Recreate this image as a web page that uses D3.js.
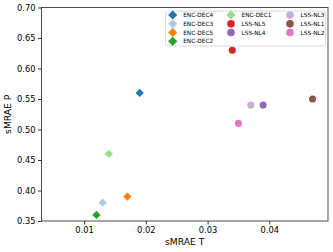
<!DOCTYPE html>
<html>
<head>
<meta charset="utf-8">
<script src="https://cdn.jsdelivr.net/npm/d3@7"></script>
<style>
  body { margin: 0; background: #fff; }
  text { font-family: "DejaVu Sans", sans-serif; }
</style>
</head>
<body>
<div id="chart"></div>
<script>
var models = ["ENC-DEC4", "ENC-DEC3", "ENC-DEC5", "ENC-DEC2", "ENC-DEC1",
              "LSS-NL5", "LSS-NL4", "LSS-NL3", "LSS-NL1", "LSS-NL2"];
var smrae_t = [0.019, 0.013, 0.017, 0.012, 0.014, 0.034, 0.039, 0.037, 0.047, 0.035];
var smrae_p = [0.56, 0.38, 0.39, 0.36, 0.46, 0.63, 0.54, 0.54, 0.55, 0.51];
var colors = ["#1f77b4", "#aec7e8", "#ff7f0e", "#2ca02c", "#98df8a",
              "#d62728", "#9467bd", "#c5b0d5", "#8c564b", "#e377c2"];
var x_ticks = [0.01, 0.02, 0.03, 0.04];
var y_ticks = [0.35, 0.40, 0.45, 0.50, 0.55, 0.60, 0.65, 0.70];

var width = 333, height = 252;
var margin = {left: 41.5, right: 5, top: 7.5, bottom: 31};

var svg = d3.select("#chart").append("svg")
    .attr("width", width)
    .attr("height", height);

var x = d3.scaleLinear().domain([0.0031, 0.0495])
    .range([margin.left, width - margin.right]);
var y = d3.scaleLinear().domain([0.35, 0.70])
    .range([height - margin.bottom, margin.top]);

var is_diamond = function(name) { return name.indexOf("ENC") === 0; };
var diamond = d3.symbol().type(d3.symbolSquare).size(34);
var circle = d3.symbol().type(d3.symbolCircle).size(40);
var leg_diamond = d3.symbol().type(d3.symbolSquare).size(42);
var leg_circle = d3.symbol().type(d3.symbolCircle).size(46);

var points = models.map(function(m, i) {
    return {name: m, t: smrae_t[i], p: smrae_p[i], color: colors[i]};
});

svg.selectAll("path.pt").data(points).enter()
    .append("path")
    .attr("class", "pt")
    .attr("d", function(d) { return is_diamond(d.name) ? diamond() : circle(); })
    .attr("transform", function(d) {
        return "translate(" + x(d.t) + "," + y(d.p) + ")" + (is_diamond(d.name) ? " rotate(45)" : "");
    })
    .attr("fill", function(d) { return d.color; });

// axes
var x_axis = svg.append("g")
    .attr("transform", "translate(0," + (height - margin.bottom) + ")")
    .call(d3.axisBottom(x).tickValues(x_ticks).tickFormat(d3.format(".2f")).tickSize(3.5).tickPadding(2.5));
var y_axis = svg.append("g")
    .attr("transform", "translate(" + margin.left + ",0)")
    .call(d3.axisLeft(y).tickValues(y_ticks).tickFormat(d3.format(".2f")).tickSize(3.5).tickPadding(2.5));

[x_axis, y_axis].forEach(function(a) {
    a.select(".domain").remove();
    a.selectAll("text").style("font-size", "8.3px").attr("fill", "#000")
        .style("font-family", "DejaVu Sans, sans-serif");
    a.selectAll("line").attr("stroke", "#000").attr("stroke-width", 0.8);
});

svg.append("rect")
    .attr("x", margin.left).attr("y", margin.top)
    .attr("width", width - margin.right - margin.left)
    .attr("height", height - margin.bottom - margin.top)
    .attr("fill", "none").attr("stroke", "#222").attr("stroke-width", 0.8);

svg.append("text")
    .attr("x", (margin.left + width - margin.right) / 2)
    .attr("y", 245)
    .attr("text-anchor", "middle")
    .style("font-size", "9.2px")
    .text("sMRAE T");
svg.append("text")
    .attr("transform", "translate(11," + ((margin.top + height - margin.bottom) / 2) + ") rotate(-90)")
    .attr("text-anchor", "middle")
    .style("font-size", "9.2px")
    .text("sMRAE P");

// legend: 3 columns, filled column by column
var legend = svg.append("g");
legend.append("rect")
    .attr("x", 165.5).attr("y", 11)
    .attr("width", 160).attr("height", 35)
    .attr("rx", 2)
    .attr("fill", "#fff").attr("fill-opacity", 0.8)
    .attr("stroke", "#d0d0d0").attr("stroke-width", 0.8);

var col_x = [172.7, 231, 290];
var row_y = [15, 23.8, 32.5, 41.3];
var col_of = [0, 0, 0, 0, 1, 1, 1, 2, 2, 2];
var row_of = [0, 1, 2, 3, 0, 1, 2, 0, 1, 2];

var items = legend.selectAll("g.item").data(points).enter()
    .append("g")
    .attr("class", "item")
    .attr("transform", function(d, i) {
        return "translate(" + col_x[col_of[i]] + "," + row_y[row_of[i]] + ")";
    });
items.append("path")
    .attr("d", function(d) { return is_diamond(d.name) ? leg_diamond() : leg_circle(); })
    .attr("transform", function(d) { return is_diamond(d.name) ? "rotate(45)" : ""; })
    .attr("fill", function(d) { return d.color; });
items.append("text")
    .attr("x", 10.5)
    .attr("y", 2.1)
    .style("font-size", "5.8px")
    .text(function(d) { return d.name; });
</script>
</body>
</html>
